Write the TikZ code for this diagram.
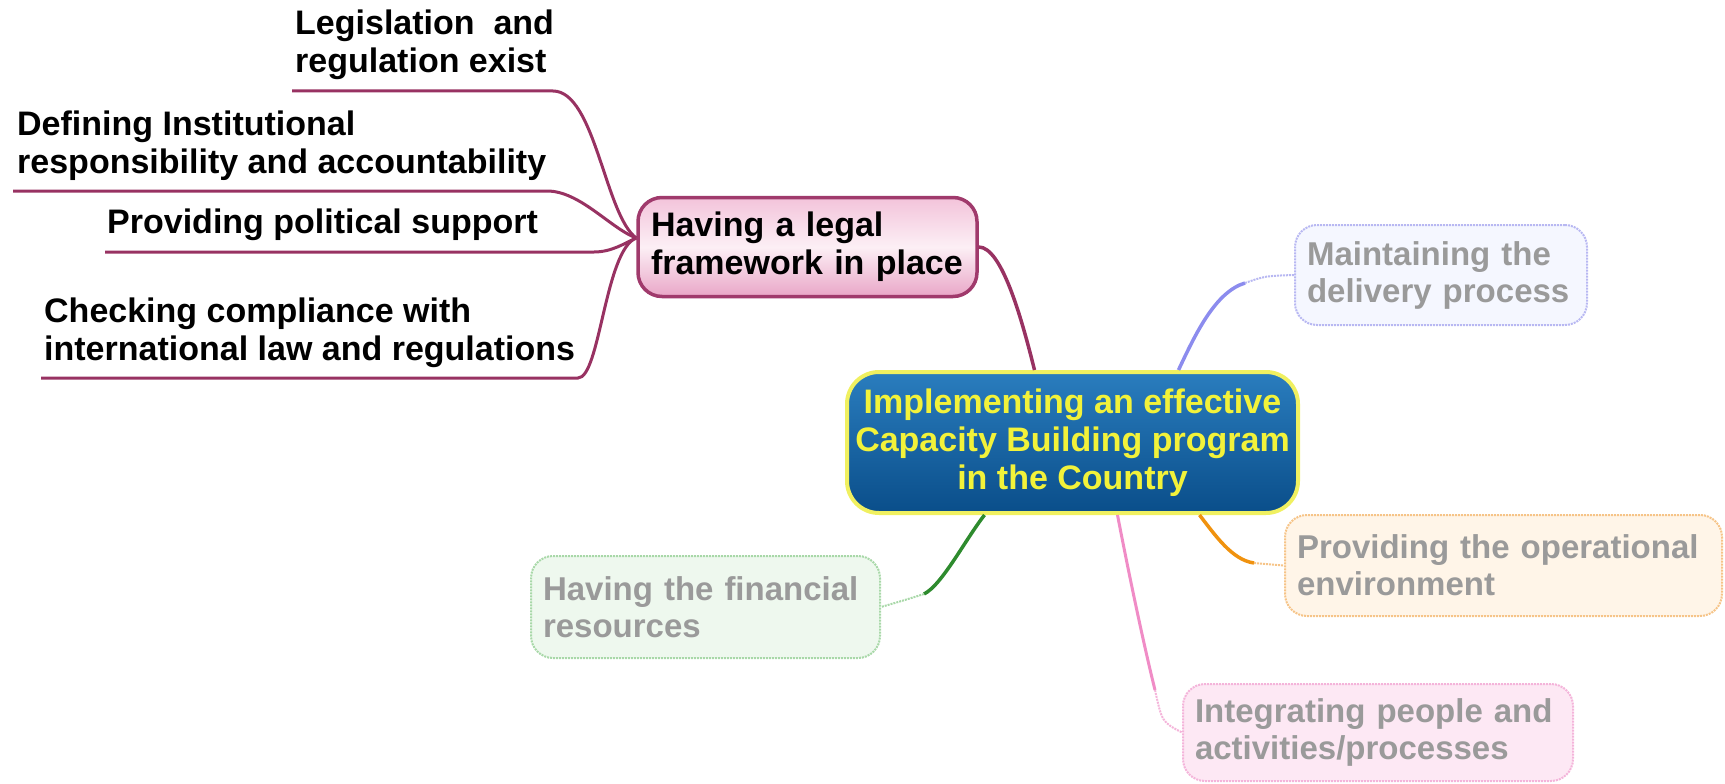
\documentclass[tikz,border=0pt]{standalone}
\usepackage{fontspec}
\setmainfont{Liberation Sans}
\usetikzlibrary{calc}
\definecolor{brc}{HTML}{983262}
\definecolor{legborder}{HTML}{A03A6C}
\definecolor{legtop}{HTML}{F3C3DA}
\definecolor{legmid}{HTML}{FCEFF5}
\definecolor{legbot}{HTML}{E9A6C7}
\definecolor{ctop}{HTML}{2A7DBE}
\definecolor{cbot}{HTML}{0A4E8A}
\definecolor{cyel}{HTML}{F2F23A}
\definecolor{cbord}{HTML}{F0F060}
\definecolor{fadetext}{HTML}{9A9A9A}
\definecolor{mcol}{HTML}{8C8CEE}
\definecolor{mfill}{HTML}{F5F7FF}
\definecolor{mbord}{HTML}{B8B8F2}
\definecolor{ocol}{HTML}{F0920E}
\definecolor{ofill}{HTML}{FFF5E8}
\definecolor{obord}{HTML}{F6C488}
\definecolor{pcol}{HTML}{F08CC6}
\definecolor{pfill}{HTML}{FDE8F4}
\definecolor{pbord}{HTML}{F4B4DA}
\definecolor{gcol}{HTML}{2E8B2E}
\definecolor{gfill}{HTML}{EEF8EE}
\definecolor{gbord}{HTML}{A8D8A8}
\begin{document}
\begin{tikzpicture}[x=1pt,y=-1pt,
  bigfont/.style={font=\fontsize{34}{38}\selectfont\bfseries},
  fadefont/.style={font=\fontsize{33}{37}\selectfont\bfseries},
  lbl/.style={bigfont, align=left, inner sep=0pt, anchor=south west},
  br/.style={draw=brc, line width=3pt},
  legalbox/.style={bigfont, draw=legborder, line width=3.5pt, rounded corners=24pt,
     top color=legtop, bottom color=legbot, middle color=legmid,
     minimum width=339pt, minimum height=99pt, text width=313pt, align=left, inner xsep=13pt},
  centerbox/.style={bigfont, text=cyel, draw=cbord, line width=4pt, rounded corners=32pt,
     top color=ctop, bottom color=cbot, minimum width=451pt, minimum height=141pt,
     align=center},
  fadebox/.style={fadefont, text=fadetext, line width=2pt, densely dotted, rounded corners=22pt,
     align=left, inner xsep=12pt},
  solidc/.style={line width=3.5pt},
  dotc/.style={line width=2pt, densely dotted}
]
\useasboundingbox (0,0) rectangle (1725,784);

% main nodes
\node[legalbox] (legal) at (807.5,247) {\mbox{Having a legal}\\\mbox{framework in place}};
\node[centerbox] (center) at (1072.5,442.5) {Implementing an effective\\Capacity Building program\\in the Country};

\node[fadebox, draw=mbord, fill=mfill, minimum width=292pt, minimum height=100pt, text width=268pt] (maint) at (1441,275) {\mbox{Maintaining the}\\\mbox{delivery process}};
\node[fadebox, draw=obord, fill=ofill, minimum width=437pt, minimum height=101pt, text width=413pt] (oper) at (1503.5,565.5) {\mbox{Providing the operational}\\\mbox{environment}};
\node[fadebox, draw=pbord, fill=pfill, minimum width=390pt, minimum height=97pt, text width=366pt] (integ) at (1378,732.5) {\mbox{Integrating people and}\\\mbox{activities/processes}};
\node[fadebox, draw=gbord, fill=gfill, minimum width=349pt, minimum height=102pt, text width=325pt] (fin) at (705.5,607) {\mbox{Having the financial}\\\mbox{resources}};

% branch labels
\node[lbl] (lgA) at (295,80) {Legislation~ and\\regulation exist};
\node[lbl] (lgB) at (17,181) {Defining Institutional\\responsibility and accountability};
\node[lbl] (lgC) at (107,241) {Providing political support};
\node[lbl] (lgD) at (44,368) {Checking compliance with\\international law and regulations};

% underline end points
\coordinate (uAs) at (292,91);  \coordinate (uAe) at (553,91);
\coordinate (uBs) at (13,191);  \coordinate (uBe) at (547,191);
\coordinate (uCs) at (105,252); \coordinate (uCe) at (594,252);
\coordinate (uDs) at (41,378);  \coordinate (uDe) at (578,378);
\coordinate (hub) at ($(legal.west)+(0,-9)$);

\draw[br] (hub) .. controls (605,215) and (595,91) .. (uAe) -- (uAs);
\draw[br] (hub) .. controls (610,228) and (580,191) .. (uBe) -- (uBs);
\draw[br] (hub) .. controls (625,243) and (612,252) .. (uCe) -- (uCs);
\draw[br] (hub) .. controls (605,250) and (600,378) .. (uDe) -- (uDs);

% legal to center
\coordinate (cL) at ($(center.north)+(-38,0)$);
\draw[br, line width=3.5pt] (legal.east) .. controls (1002,247) and (1022,320) .. (cL);

% maintaining
\coordinate (mS) at ($(center.north)+(106,0)$);
\coordinate (mM) at (1245,283);
\draw[solidc, mcol] (mS) .. controls (1195,335) and (1215,292) .. (mM);
\draw[dotc, mbord] (mM) .. controls (1265,276) .. (maint.west);

% operational
\coordinate (oS) at ($(center.south)+(127,0)$);
\coordinate (oM) at (1254,563);
\draw[solidc, ocol] (oS) .. controls (1215,535) and (1232,560) .. (oM);
\draw[dotc, obord] (oM) -- (oper.west);

% integrating
\coordinate (iS) at ($(center.south)+(45,0)$);
\coordinate (iM) at (1155,690);
\draw[solidc, pcol, line width=3pt] (iS) .. controls (1130,580) and (1145,650) .. (iM);
\draw[dotc, pbord] (iM) .. controls (1162,722) .. (integ.west);

% financial
\coordinate (fS) at ($(center.south)+(-88,0)$);
\coordinate (fM) at (924,594);
\draw[solidc, gcol] (fS) .. controls (965,540) and (942,585) .. (fM);
\draw[dotc, gbord] (fM) .. controls (905,600) .. (fin.east);
\end{tikzpicture}
\end{document}
